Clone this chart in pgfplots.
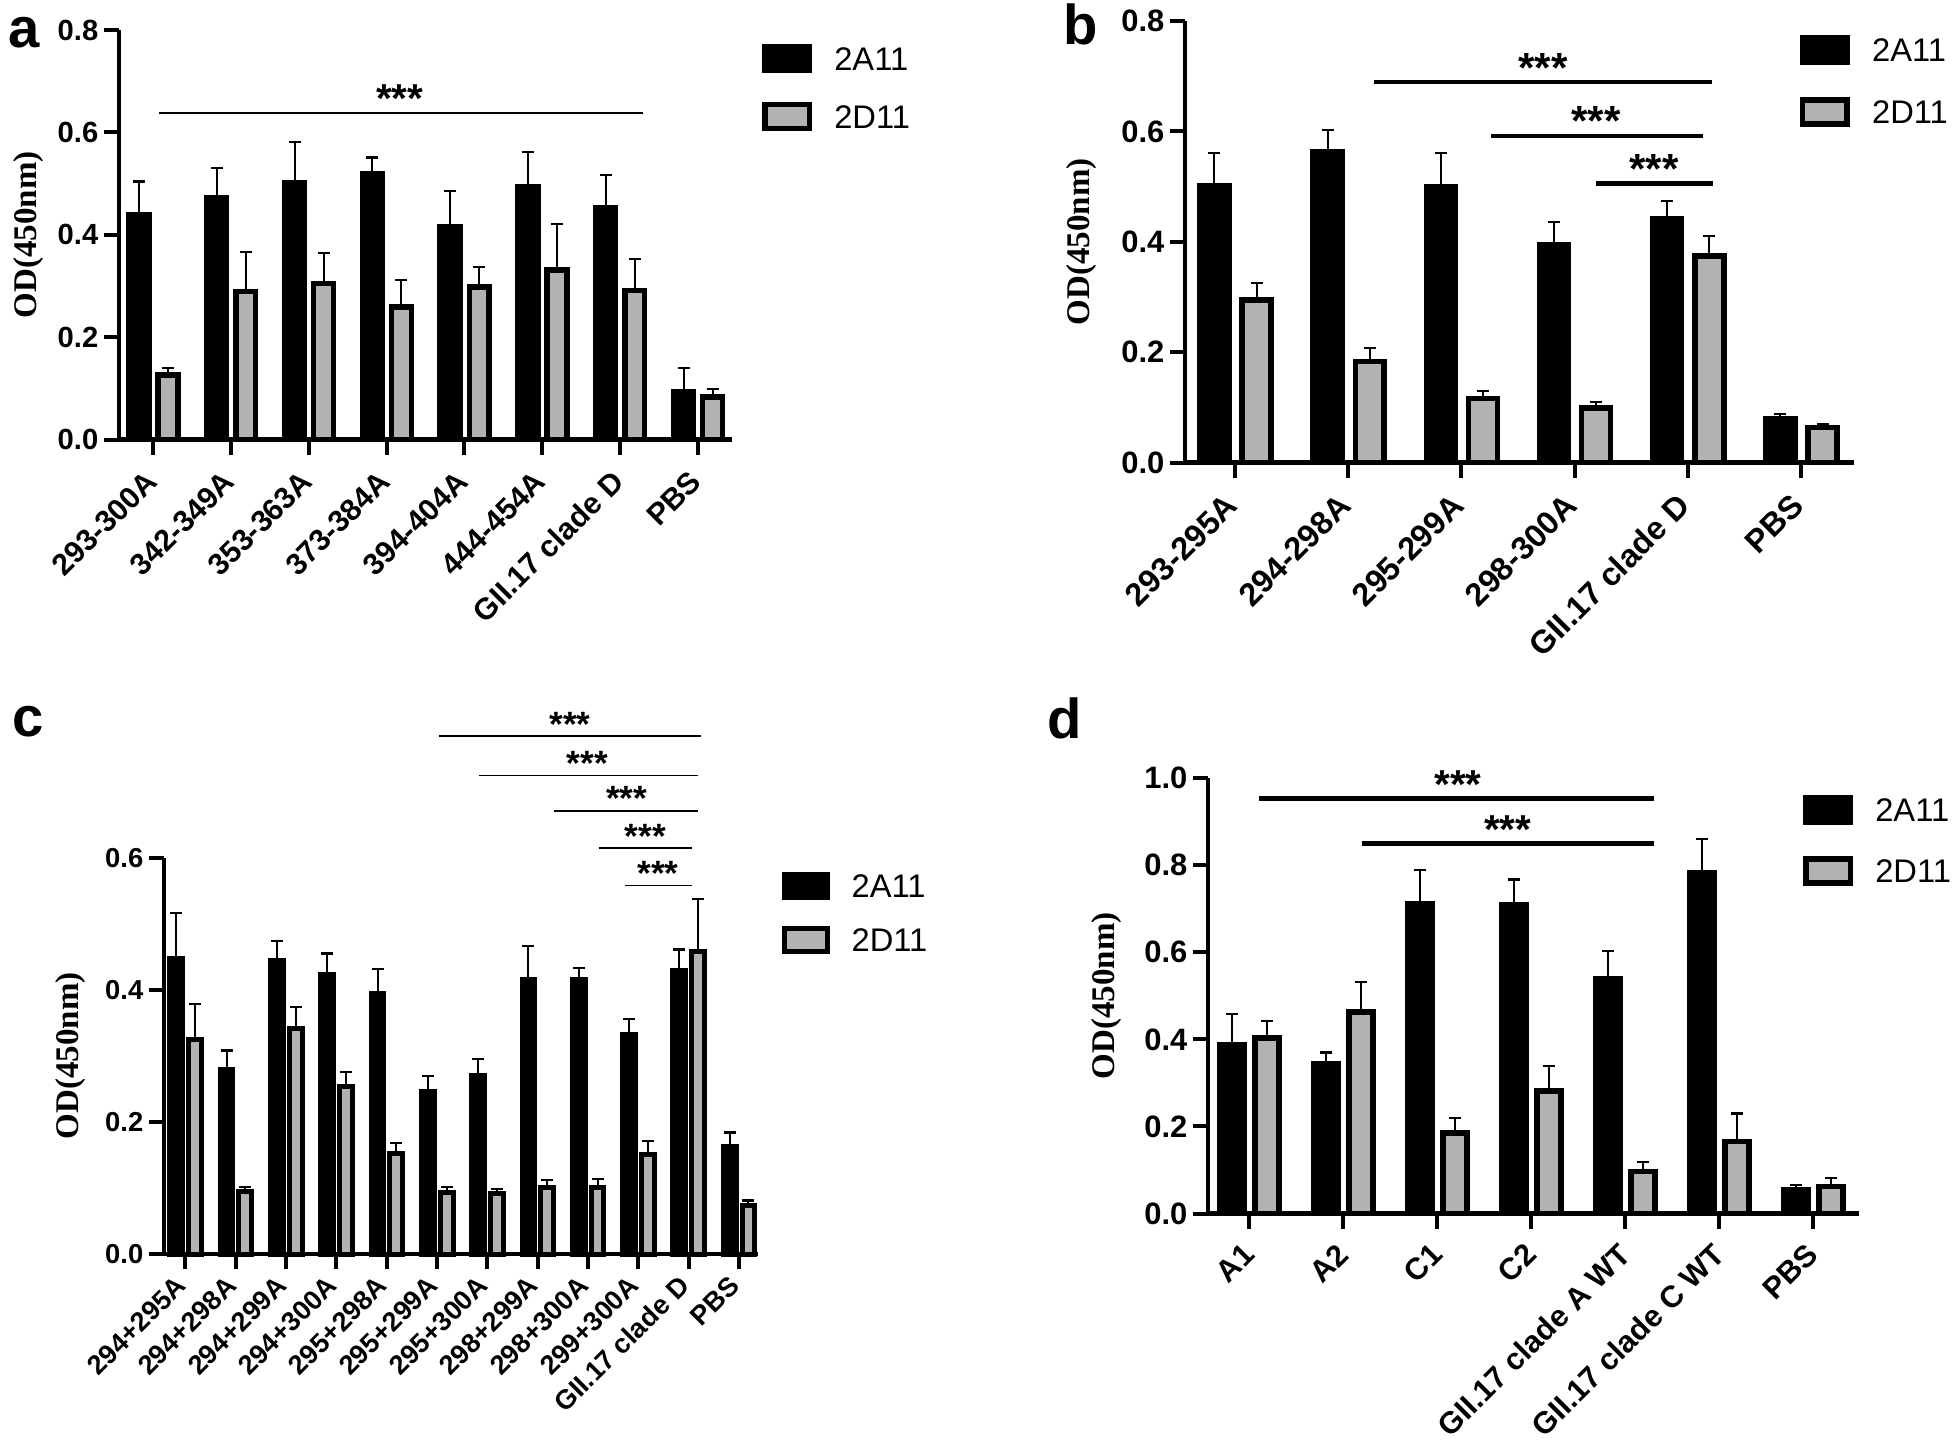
\documentclass[border=0pt]{standalone}
\usepackage{fontspec}
\setmainfont{Liberation Sans}
\newfontfamily\timesf{Liberation Serif}
\usepackage{pgfplots}
\usepackage{pgfplotstable}
\pgfplotsset{compat=1.18}
\definecolor{bargray}{RGB}{178,178,178}
\newcommand\fs[1]{\fontsize{#1}{#1}\selectfont}

\pgfplotstableread{
x a ae b be
0 0.440 0.064 0.126 0.013
1 0.472 0.059 0.289 0.077
2 0.501 0.080 0.305 0.060
3 0.520 0.031 0.259 0.053
4 0.415 0.070 0.298 0.039
5 0.494 0.067 0.331 0.090
6 0.453 0.064 0.291 0.062
7 0.093 0.046 0.083 0.015
}\dataA
\pgfplotstableread{
x a ae b be
0 0.501 0.060 0.295 0.030
1 0.563 0.040 0.183 0.025
2 0.500 0.061 0.116 0.014
3 0.395 0.041 0.099 0.011
4 0.442 0.032 0.374 0.037
5 0.080 0.008 0.064 0.006
}\dataB
\pgfplotstableread{
x a ae b be
0 0.447 0.069 0.325 0.053
1 0.280 0.028 0.094 0.007
2 0.445 0.029 0.341 0.033
3 0.423 0.032 0.254 0.021
4 0.394 0.037 0.152 0.016
5 0.246 0.024 0.093 0.008
6 0.271 0.024 0.091 0.007
7 0.416 0.050 0.101 0.011
8 0.415 0.018 0.101 0.013
9 0.332 0.024 0.150 0.021
10 0.429 0.032 0.458 0.080
11 0.163 0.021 0.073 0.008
}\dataC
\pgfplotstableread{
x a ae b be
0 0.387 0.071 0.403 0.040
1 0.343 0.027 0.463 0.068
2 0.711 0.077 0.185 0.035
3 0.709 0.058 0.281 0.057
4 0.540 0.063 0.097 0.022
5 0.783 0.077 0.165 0.065
6 0.055 0.010 0.062 0.020
}\dataD

\pgfplotsset{
 panel/.style={
  scale only axis, clip=false, enlargelimits=false,
  axis x line=bottom, axis y line=left,
  axis line style={-, line width=0.45mm, black},
  tick align=outside, major tick length=1.5mm,
  tick style={line width=0.4mm, black},
  ymin=0, ybar, bar width=0.255,
  /pgf/number format/assume math mode=true,
  scaled y ticks=false,
  yticklabel style={/pgf/number format/fixed, /pgf/number format/fixed zerofill, /pgf/number format/precision=1, inner sep=0pt, xshift=-0.5mm},
  ylabel style={font=\timesf\bfseries\fs{9.4}, anchor=center},
  error bars/y dir=plus, error bars/y explicit,
  error bars/error bar style={line width=0.2mm, black},
  error bars/error mark=-,
  error bars/error mark options={rotate=90, line width=0.22mm, black, mark size=0.6mm},
  legend style={anchor=north west, draw=none, fill=none, inner sep=0pt, outer sep=0pt, font=\fs{9.3}, nodes={inner sep=0.5pt, text depth=0pt}},
  legend cell align=left,
 },
 legA/.style={legend image code/.code={\draw[##1] (0mm,-1.2mm) rectangle (4.45mm,1.2mm); \path (6.5mm,0mm);}},
 legC/.style={legend image code/.code={\draw[##1] (0mm,-1.15mm) rectangle (4.3mm,1.15mm); \path (6.3mm,0mm);}},
}
\tikzset{stars/.style={anchor=base, inner sep=0pt, font=\bfseries\fs{#1}}}

\begin{document}
\begin{tikzpicture}
\useasboundingbox (0,0) rectangle (195.9mm,-145.4mm);

\node[anchor=base west, inner sep=0pt, font=\bfseries\fs{16}] at (0.8mm,-4.7mm) {a};
\node[anchor=base west, inner sep=0pt, font=\bfseries\fs{16}] at (106.3mm,-4.4mm) {b};
\node[anchor=base west, inner sep=0pt, font=\bfseries\fs{16}] at (1.2mm,-73.6mm) {c};
\node[anchor=base west, inner sep=0pt, font=\bfseries\fs{16}] at (104.7mm,-73.8mm) {d};

% panel a
\begin{axis}[panel, at={(11.9mm,-43.95mm)}, anchor=south west,
  width=61.3mm, height=40.95mm, xmin=-0.44, xmax=7.44, ymax=0.8,
  ytick={0,0.2,0.4,0.6,0.8}, xtick={0,...,7},
  xticklabels={293-300A,342-349A,353-363A,373-384A,394-404A,444-454A,GII.17 clade D,PBS},
  xticklabel style={font=\bfseries\fs{8.6}, xshift=-0.15mm, yshift=-2.15mm, rotate=45, anchor=east, inner sep=0pt},
  yticklabel style={font=\bfseries\fs{8.3}},
  ylabel={OD(450nm)}, ylabel style={at={(axis description cs:-0.148,0.5)}},
  legend style={at={(1.049,0.966)}, row sep=2.85mm}]
\addplot[fill=black, draw=black, line width=0.55mm, bar shift=-0.183, legA]
  table[x=x, y=a, y error=ae]{\dataA};
\addplot[fill=bargray, draw=black, line width=0.55mm, bar shift=0.19, legA]
  table[x=x, y=b, y error=be]{\dataA};
\legend{2A11,2D11}
\draw[line width=0.15mm] (axis cs:0.07,0.638) -- (axis cs:6.30,0.638);
\node[stars=11.5] at (axis cs:3.17,0.638) {***};
\end{axis}

% panel b
\begin{axis}[panel, at={(118.5mm,-46.27mm)}, anchor=south west,
  width=66.9mm, height=44.18mm, xmin=-0.442, xmax=5.468, ymax=0.8,
  ytick={0,0.2,0.4,0.6,0.8}, xtick={0,...,5},
  xticklabels={293-295A,294-298A,295-299A,298-300A,GII.17 clade D,PBS},
  xticklabel style={font=\bfseries\fs{9.2}, xshift=-0.3mm, yshift=-2.2mm, rotate=45, anchor=east, inner sep=0pt},
  yticklabel style={font=\bfseries\fs{8.8}},
  ylabel={OD(450nm)}, ylabel style={at={(axis description cs:-0.155,0.5)}},
  legend style={at={(0.919,0.968)}, row sep=3.25mm}]
\addplot[fill=black, draw=black, line width=0.55mm, bar shift=-0.183, legA]
  table[x=x, y=a, y error=ae]{\dataB};
\addplot[fill=bargray, draw=black, line width=0.55mm, bar shift=0.19, legA]
  table[x=x, y=b, y error=be]{\dataB};
\legend{2A11,2D11}
\draw[line width=0.45mm] (axis cs:1.225,0.689) -- (axis cs:4.216,0.689);
\draw[line width=0.45mm] (axis cs:2.26,0.592) -- (axis cs:4.13,0.592);
\draw[line width=0.45mm] (axis cs:3.19,0.506) -- (axis cs:4.22,0.506);
\node[stars=12] at (axis cs:2.72,0.689) {***};
\node[stars=12] at (axis cs:3.19,0.592) {***};
\node[stars=12] at (axis cs:3.70,0.506) {***};
\end{axis}

% panel c
\begin{axis}[panel, at={(16.4mm,-125.4mm)}, anchor=south west,
  width=59.35mm, height=39.63mm, xmin=-0.427, xmax=11.37, ymax=0.6,
  ytick={0,0.2,0.4,0.6}, xtick={0,...,11},
  xticklabels={294+295A,294+298A,294+299A,294+300A,295+298A,295+299A,295+300A,298+299A,298+300A,299+300A,GII.17 clade D,PBS},
  xticklabel style={font=\bfseries\fs{7.7}, xshift=-0.4mm, yshift=-1.17mm, rotate=45, anchor=east, inner sep=0pt},
  yticklabel style={font=\bfseries\fs{7.8}},
  ylabel={OD(450nm)}, ylabel style={at={(axis description cs:-0.158,0.5)}},
  legend style={at={(1.041,0.964)}, row sep=2.65mm}]
\addplot[fill=black, draw=black, line width=0.5mm, bar shift=-0.183, legC]
  table[x=x, y=a, y error=ae]{\dataC};
\addplot[fill=bargray, draw=black, line width=0.5mm, bar shift=0.19, legC]
  table[x=x, y=b, y error=be]{\dataC};
\legend{2A11,2D11}
\draw[line width=0.15mm] (axis cs:5.04,0.784) -- (axis cs:10.25,0.784);
\draw[line width=0.15mm] (axis cs:5.83,0.7245) -- (axis cs:10.18,0.7245);
\draw[line width=0.15mm] (axis cs:7.32,0.671) -- (axis cs:10.18,0.671);
\draw[line width=0.15mm] (axis cs:8.21,0.6146) -- (axis cs:10.06,0.6146);
\draw[line width=0.15mm] (axis cs:8.73,0.558) -- (axis cs:10.06,0.558);
\node[stars=10] at (axis cs:7.64,0.784) {***};
\node[stars=10] at (axis cs:7.99,0.7245) {***};
\node[stars=10] at (axis cs:8.77,0.671) {***};
\node[stars=10] at (axis cs:9.14,0.6146) {***};
\node[stars=10] at (axis cs:9.39,0.558) {***};
\end{axis}

% panel d
\begin{axis}[panel, at={(120.8mm,-121.36mm)}, anchor=south west,
  width=65.1mm, height=43.56mm, xmin=-0.44, xmax=6.49, ymax=1.0,
  ytick={0,0.2,0.4,0.6,0.8,1.0}, xtick={0,...,6},
  xticklabels={A1,A2,C1,C2,GII.17 clade A WT,GII.17 clade C WT,PBS},
  xticklabel style={font=\bfseries\fs{8.7}, xshift=0mm, yshift=-2.04mm, rotate=45, anchor=east, inner sep=0pt},
  yticklabel style={font=\bfseries\fs{8.8}},
  ylabel={OD(450nm)}, ylabel style={at={(axis description cs:-0.156,0.5)}},
  legend style={at={(0.914,0.961)}, row sep=3.15mm}]
\addplot[fill=black, draw=black, line width=0.55mm, bar shift=-0.183, legA]
  table[x=x, y=a, y error=ae]{\dataD};
\addplot[fill=bargray, draw=black, line width=0.55mm, bar shift=0.19, legA]
  table[x=x, y=b, y error=be]{\dataD};
\legend{2A11,2D11}
\draw[line width=0.45mm] (axis cs:0.10,0.9525) -- (axis cs:4.31,0.9525);
\draw[line width=0.45mm] (axis cs:1.20,0.85) -- (axis cs:4.31,0.85);
\node[stars=11.5] at (axis cs:2.22,0.9525) {***};
\node[stars=11.5] at (axis cs:2.75,0.85) {***};
\end{axis}
\end{tikzpicture}
\end{document}
